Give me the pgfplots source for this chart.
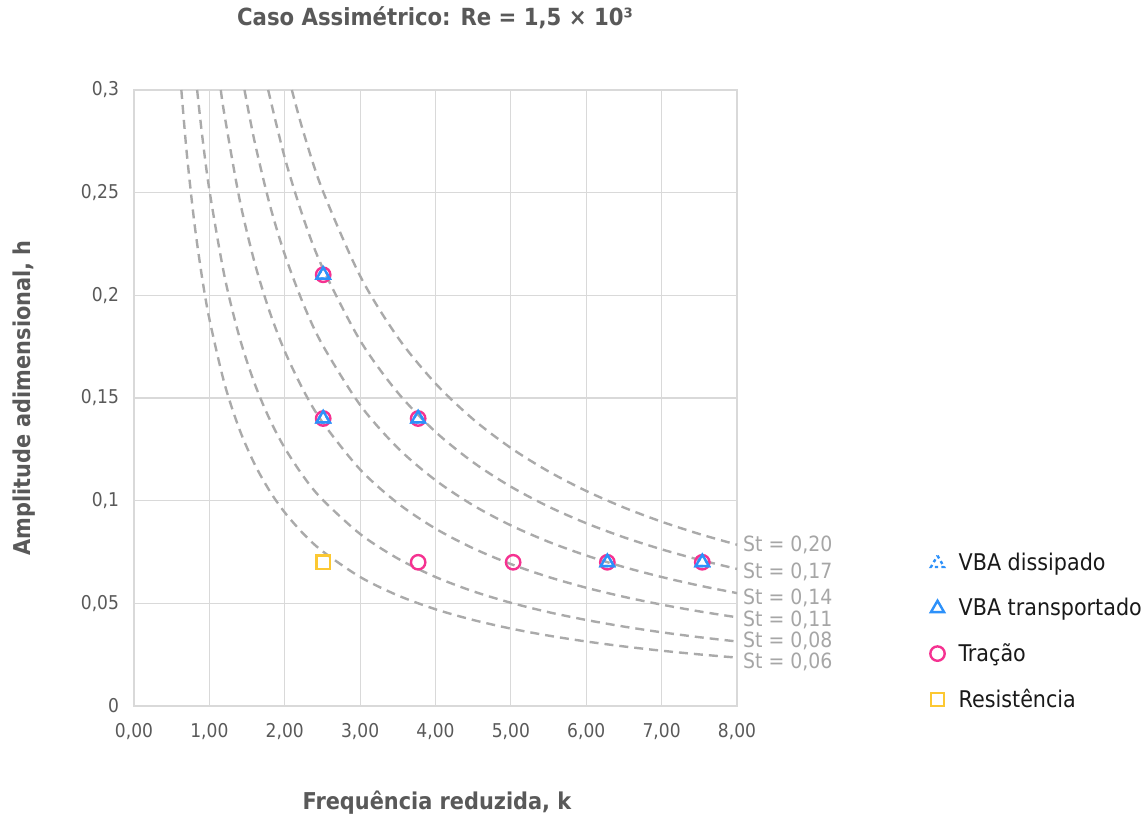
\documentclass[border=0pt]{standalone}
\usepackage{fontspec}
\setmainfont{DejaVu Sans Condensed}
\usepackage{pgfplots}
\pgfplotsset{compat=1.18}

\definecolor{vba}{RGB}{45,145,250}
\definecolor{trac}{RGB}{245,50,145}
\definecolor{resis}{RGB}{252,200,50}
\definecolor{curve}{RGB}{170,170,170}
\definecolor{stlab}{RGB}{166,166,166}
\definecolor{txt}{RGB}{89,89,89}
\definecolor{gridc}{RGB}{217,217,217}

% Strouhal iso-lines, h = pi*St/k
\pgfplotstableread{
k h
0.6283 0.3
0.7 0.26928
0.8 0.23562
0.9 0.20944
1.0 0.18850
1.2 0.15708
1.4 0.13464
1.6 0.11781
1.8 0.10472
2.0 0.09425
2.25 0.08378
2.5 0.07540
3 0.06283
3.5 0.05386
4 0.04712
4.5 0.04189
5 0.03770
5.5 0.03427
6 0.03142
6.5 0.02900
7 0.02693
7.5 0.02513
8 0.02356
}\stA
\pgfplotstableread{
k h
0.8378 0.3
0.9 0.27925
1.0 0.25133
1.2 0.20944
1.4 0.17952
1.6 0.15708
1.8 0.13963
2.0 0.12566
2.25 0.11170
2.5 0.10053
3 0.08378
3.5 0.07181
4 0.06283
4.5 0.05585
5 0.05027
5.5 0.04570
6 0.04189
6.5 0.03867
7 0.03590
7.5 0.03351
8 0.03142
}\stB
\pgfplotstableread{
k h
1.1519 0.3
1.2 0.28798
1.4 0.24684
1.6 0.21599
1.8 0.19199
2.0 0.17279
2.25 0.15359
2.5 0.13823
3 0.11519
3.5 0.09874
4 0.08639
4.5 0.07680
5 0.06912
5.5 0.06283
6 0.05760
6.5 0.05317
7 0.04937
7.5 0.04608
8 0.04320
}\stC
\pgfplotstableread{
k h
1.4661 0.3
1.6 0.27489
1.8 0.24434
2.0 0.21991
2.25 0.19548
2.5 0.17593
3 0.14661
3.5 0.12566
4 0.10996
4.5 0.09774
5 0.08796
5.5 0.07997
6 0.07330
6.5 0.06766
7 0.06283
7.5 0.05864
8 0.05498
}\stD
\pgfplotstableread{
k h
1.7802 0.3
2.0 0.26704
2.25 0.23736
2.5 0.21363
3 0.17802
3.5 0.15259
4 0.13352
4.5 0.11868
5 0.10681
5.5 0.09710
6 0.08901
6.5 0.08216
7 0.07630
7.5 0.07121
8 0.06676
}\stE
\pgfplotstableread{
k h
2.0944 0.3
2.25 0.27925
2.5 0.25133
3 0.20944
3.5 0.17952
4 0.15708
4.5 0.13963
5 0.12566
5.5 0.11424
6 0.10472
6.5 0.09666
7 0.08976
7.5 0.08378
8 0.07854
}\stF

\begin{document}
\begin{tikzpicture}
\useasboundingbox (-67pt,-56pt) rectangle (506pt,353pt);
\begin{axis}[
    at={(0,0)}, anchor=south west,
    scale only axis,
    width=301.5pt, height=308pt,
    xmin=0, xmax=8, ymin=0, ymax=0.3,
    xtick={0,1,...,8},
    ytick={0,0.05,0.1,0.15,0.2,0.25,0.3},
    major tick length=0pt,
    grid=major,
    grid style={draw=gridc, line width=0.6pt},
    axis line style={draw=gridc, line width=0.6pt},
    tick label style={font=\fontsize{9.5}{10}\selectfont, text=txt},
    xticklabel style={yshift=-5pt},
    yticklabel style={xshift=-4pt},
    x tick label style={/pgf/number format/.cd, fixed, fixed zerofill, precision=2, use comma, assume math mode=true},
    y tick label style={/pgf/number format/.cd, fixed, precision=2, use comma, assume math mode=true},
    clip=false,
    legend style={at={(1.31,0.262)}, anchor=north west, draw=none, fill=none,
        font=\fontsize{11.5}{12}\selectfont, text=black!90, row sep=8.3pt,
        /tikz/every odd column/.append style={column sep=5pt}},
    legend cell align=left,
]
\addplot[curve, dash pattern=on 4.5pt off 3pt, line width=1.2pt, smooth, forget plot] table[x=k,y=h] {\stA};
\addplot[curve, dash pattern=on 4.5pt off 3pt, line width=1.2pt, smooth, forget plot] table[x=k,y=h] {\stB};
\addplot[curve, dash pattern=on 4.5pt off 3pt, line width=1.2pt, smooth, forget plot] table[x=k,y=h] {\stC};
\addplot[curve, dash pattern=on 4.5pt off 3pt, line width=1.2pt, smooth, forget plot] table[x=k,y=h] {\stD};
\addplot[curve, dash pattern=on 4.5pt off 3pt, line width=1.2pt, smooth, forget plot] table[x=k,y=h] {\stE};
\addplot[curve, dash pattern=on 4.5pt off 3pt, line width=1.2pt, smooth, forget plot] table[x=k,y=h] {\stF};

% Tracao
\addplot[only marks, mark=o, mark size=3.6pt, mark options={draw=trac, line width=1.2pt}, forget plot] coordinates {
    (2.51,0.21) (2.51,0.14) (3.77,0.14) (3.77,0.07) (5.03,0.07) (6.28,0.07) (7.54,0.07)
};
% Resistencia
\addplot[only marks, mark=square, mark size=3.3pt, mark options={draw=resis, line width=1.2pt}, forget plot] coordinates {
    (2.51,0.07)
};
% VBA dissipado
\addplot[only marks, mark=triangle, mark size=3.8pt, mark options={draw=vba, line width=1.2pt, dash pattern=on 1.6pt off 1.6pt}, forget plot] coordinates {
    (2.51,0.21) (2.51,0.14) (3.77,0.14) (6.28,0.07) (7.54,0.07)
};
% VBA transportado
\addplot[only marks, mark=triangle, mark size=3.8pt, mark options={draw=vba, line width=1.2pt}, forget plot] coordinates {
    (2.51,0.21) (2.51,0.14) (3.77,0.14) (6.28,0.07) (7.54,0.07)
};

\addlegendimage{only marks, mark=triangle, mark size=3.8pt, mark options={draw=vba, line width=1.2pt, dash pattern=on 1.6pt off 1.6pt}}
\addlegendentry{VBA dissipado}
\addlegendimage{only marks, mark=triangle, mark size=3.8pt, mark options={draw=vba, line width=1.2pt}}
\addlegendentry{VBA transportado}
\addlegendimage{only marks, mark=o, mark size=3.6pt, mark options={draw=trac, line width=1.2pt}}
\addlegendentry{Tração}
\addlegendimage{only marks, mark=square, mark size=3.3pt, mark options={draw=resis, line width=1.2pt}}
\addlegendentry{Resistência}

\begin{scope}[every node/.style={anchor=west, text=stlab, font=\fontsize{10.5}{11}\selectfont, inner sep=1pt}]
\node at (axis cs:8.05,0.0784) {St = 0,20};
\node at (axis cs:8.05,0.0653) {St = 0,17};
\node at (axis cs:8.05,0.0526) {St = 0,14};
\node at (axis cs:8.05,0.0419) {St = 0,11};
\node at (axis cs:8.05,0.0317) {St = 0,08};
\node at (axis cs:8.05,0.0214) {St = 0,06};
\end{scope}
\end{axis}
\node[text=txt, font=\bfseries\fontsize{11.8}{14}\selectfont] at (150.5pt,344pt) {Caso Assimétrico: Re = 1,5 × 10³};
\node[text=txt, font=\bfseries\fontsize{11.6}{12}\selectfont] at (151.5pt,-48.5pt) {Frequência reduzida, k};
\node[text=txt, font=\bfseries\fontsize{11.6}{12}\selectfont, rotate=90] at (-55pt,154pt) {Amplitude adimensional, h};
\end{tikzpicture}
\end{document}
